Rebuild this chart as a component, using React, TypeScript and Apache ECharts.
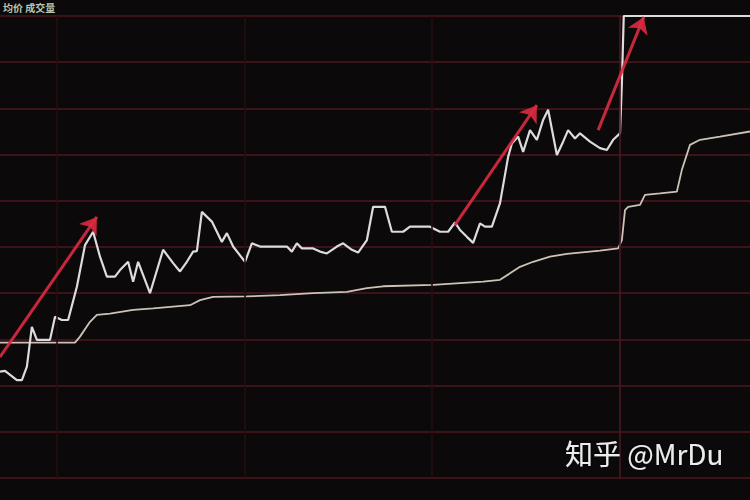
import React, { useEffect, useRef } from "react";
import * as echarts from "echarts";

// Price line: [minute, % change]
const priceTimes = [0, 0.8, 2.7, 3.5, 4.3, 5.1, 5.9, 8.0, 8.8, 9.9, 10.9, 12.3, 13.6, 14.9, 16.0, 17.1, 18.4, 19.2, 20.5, 21.3, 22.1, 24.0, 26.1, 27.7, 28.8, 29.9, 30.9, 31.5, 32.3, 33.9, 35.5, 36.3, 37.3, 39.2, 40.3, 41.6, 45.9, 46.7, 47.5, 48.3, 50.1, 51.2, 52.3, 53.9, 54.9, 56.3, 57.3, 58.7, 59.7, 61.6, 62.7, 64.5, 65.6, 68.8, 70.4, 71.7, 72.8, 73.6, 74.7, 75.7, 76.8, 77.6, 78.7, 80.0, 81.3, 81.9, 82.9, 83.7, 84.8, 85.9, 86.9, 87.7, 89.1, 90.1, 90.9, 92.0, 92.8, 94.4, 96.0, 97.1, 98.1, 99.2, 99.5, 99.8, 120];
const priceValues = [2.30, 2.32, 2.12, 2.12, 2.41, 3.27, 2.99, 2.99, 3.49, 3.42, 3.42, 4.14, 5.04, 5.33, 4.79, 4.36, 4.36, 4.50, 4.68, 4.25, 4.68, 4.00, 4.94, 4.65, 4.47, 4.68, 4.90, 4.91, 5.76, 5.55, 5.11, 5.30, 5.01, 4.68, 5.08, 5.01, 5.01, 4.90, 5.08, 4.97, 4.97, 4.90, 4.86, 5.01, 5.08, 4.94, 4.88, 5.15, 5.87, 5.87, 5.33, 5.33, 5.44, 5.44, 5.33, 5.33, 5.53, 5.37, 5.22, 5.09, 5.51, 5.44, 5.44, 5.95, 6.95, 7.24, 7.39, 7.06, 7.53, 7.32, 7.75, 7.97, 6.99, 7.28, 7.53, 7.35, 7.46, 7.28, 7.14, 7.10, 7.32, 7.46, 8.55, 10.0, 10.0];

// Average price line
const avgTimes = [0, 12.0, 12.8, 14.4, 15.5, 17.6, 21.3, 24.5, 27.7, 30.4, 32.0, 34.1, 39.5, 44.8, 50.1, 55.5, 58.7, 61.3, 69.3, 77.3, 80.0, 81.6, 83.2, 85.3, 88.0, 90.7, 96.0, 98.9, 99.5, 100.0, 100.5, 102.4, 103.2, 105.6, 108.3, 109.1, 110.4, 112.0, 115.2, 120];
const avgValues = [2.93, 2.93, 3.06, 3.38, 3.53, 3.56, 3.64, 3.67, 3.71, 3.74, 3.85, 3.92, 3.93, 3.96, 4.00, 4.03, 4.11, 4.15, 4.18, 4.25, 4.29, 4.43, 4.57, 4.68, 4.79, 4.85, 4.92, 4.97, 5.15, 5.80, 5.87, 5.91, 6.13, 6.16, 6.20, 6.67, 7.21, 7.32, 7.39, 7.50];

// Vertical time separators (minutes)
const timeMarks = [9.1, 39.1, 69.1, 99.2];

// Annotation arrows: [fromTime, fromValue, toTime, toValue]
const arrows = [
  [0, 2.62, 15.5, 5.65],
  [72.8, 5.48, 85.9, 8.07],
  [95.7, 7.53, 103.0, 9.98],
];

const watermark = "知乎 @MrDu";
const topLabel = "均价 成交量";

export default function App() {
  const ref = useRef<HTMLDivElement>(null);
  useEffect(() => {
    if (!ref.current) return;
    const chart = echarts.init(ref.current, undefined, { renderer: "svg" });
    const priceData = priceTimes.map((t, i) => [t, priceValues[i]]);
    const avgData = avgTimes.map((t, i) => [t, avgValues[i]]);
    chart.setOption({
      animation: false,
      backgroundColor: "#0b0909",
      grid: { left: 0, right: 0, top: 16, bottom: 22 },
      xAxis: {
        type: "value",
        min: 0,
        max: 120,
        axisLine: { show: false },
        axisTick: { show: false },
        axisLabel: { show: false },
        splitLine: { show: false },
      },
      yAxis: {
        type: "value",
        min: 0,
        max: 10,
        interval: 1,
        axisLine: { show: false },
        axisTick: { show: false },
        axisLabel: { show: false },
        splitLine: { show: true, lineStyle: { color: "#4f1720", width: 1.6 } },
      },
      graphic: [
        {
          type: "text",
          left: 3,
          top: 2,
          style: {
            text: topLabel,
            fill: "#b9c6ad",
            font: "bold 10px 'Noto Sans CJK SC'",
          },
        },
        {
          type: "text",
          left: 565,
          top: 439,
          z: 100,
          style: {
            text: watermark,
            fill: "#ececec",
            font: "28px 'Noto Sans CJK SC'",
            textShadowColor: "rgba(0,0,0,0.7)",
            textShadowBlur: 3,
          },
        },
      ],
      series: [
        {
          type: "line",
          data: avgData,
          showSymbol: false,
          symbol: "none",
          silent: true,
          z: 2,
          lineStyle: { color: "#cdc2b6", width: 1.8 },
          markLine: {
            silent: true,
            symbol: ["none", "none"],
            label: { show: false },
            emphasis: { disabled: true },
            data: timeMarks.map((t, i) => ({
              xAxis: t,
              lineStyle: {
                color: i === timeMarks.length - 1 ? "#4a1822" : "#24100f",
                width: 1.6,
                type: "solid",
              },
            })),
          },
        },
        {
          type: "line",
          data: priceData,
          showSymbol: false,
          symbol: "none",
          silent: true,
          z: 3,
          lineStyle: { color: "#dcdcdc", width: 2.2 },
          markLine: {
            silent: true,
            symbol: ["none", "arrow"],
            symbolSize: 16,
            label: { show: false },
            emphasis: { disabled: true },
            itemStyle: { color: "#e0304a" },
            lineStyle: { color: "#d92a40", width: 3, type: "solid", opacity: 0.92 },
            data: arrows.map((a) => [
              { coord: [a[0], a[1]] },
              { coord: [a[2], a[3]] },
            ]),
          },
        },
      ],
    });
    return () => chart.dispose();
  }, []);
  return (
    <div
      ref={ref}
      style={{ position: "fixed", left: 0, top: 0, width: 750, height: 500 }}
    />
  );
}
